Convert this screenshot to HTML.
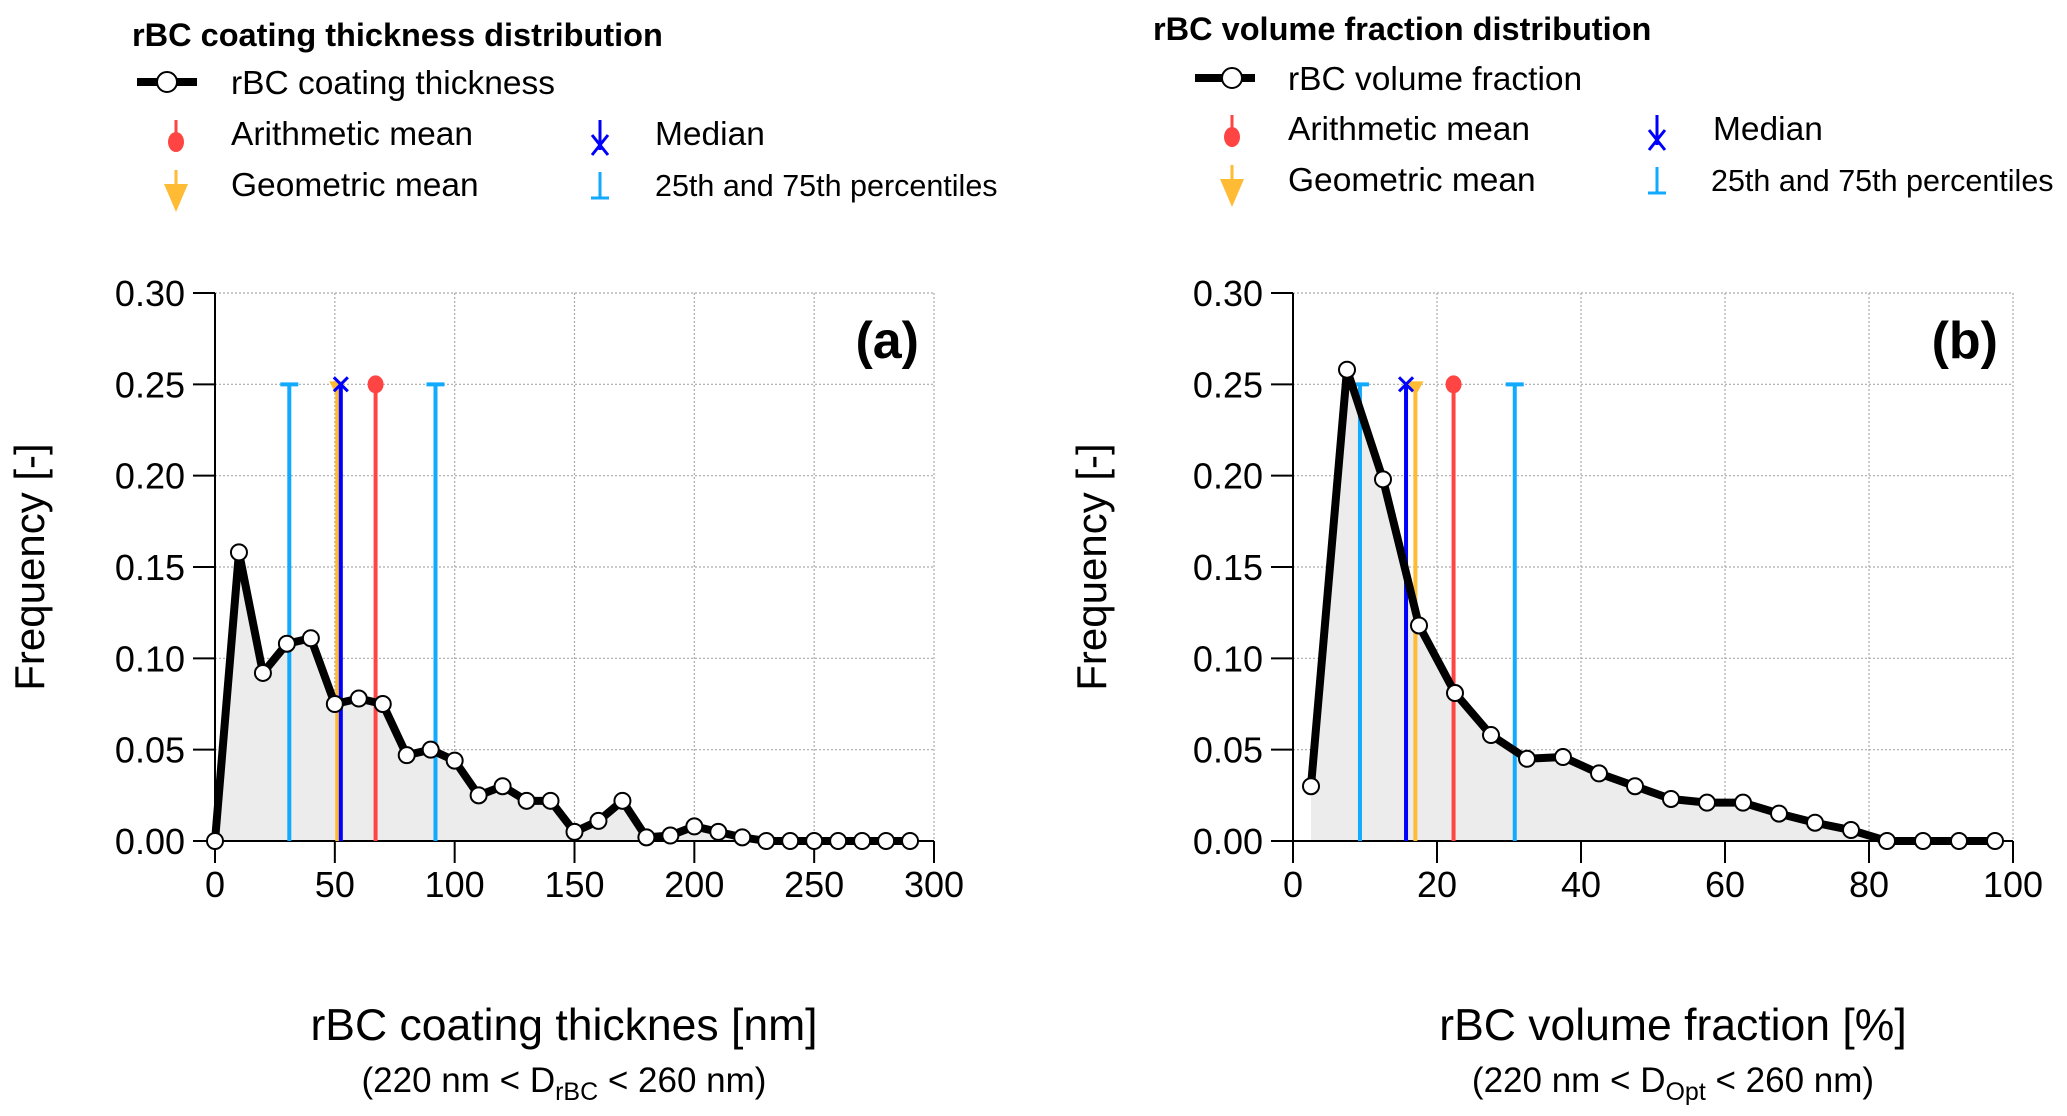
<!DOCTYPE html>
<html><head><meta charset="utf-8"><style>
html,body{margin:0;padding:0;background:#fff;}
svg{display:block;font-family:"Liberation Sans",Arial,sans-serif;}
</style></head><body>
<svg id="fig" width="2067" height="1116" viewBox="0 0 2067 1116">
<g>
 <text x="132" y="46" font-size="32.5" font-weight="bold">rBC coating  thickness distribution</text>
 <line x1="137" y1="82" x2="197" y2="82" stroke="#000" stroke-width="8"/>
 <circle cx="167" cy="82" r="10" fill="#fff" stroke="#000" stroke-width="2"/>
 <text x="231" y="94" font-size="33.5">rBC coating thickness</text>
 <line x1="176" y1="120" x2="176" y2="133" stroke="#f44" stroke-width="3"/><ellipse cx="176" cy="142" rx="8" ry="10" fill="#f44"/>
 <text x="231" y="145" font-size="33.5">Arithmetic mean</text>
 <line x1="176" y1="170" x2="176" y2="185" stroke="#fb3" stroke-width="3"/><polygon points="164,184 188,184 176,212" fill="#fb3"/>
 <text x="231" y="196" font-size="33.5">Geometric mean</text>
 <line x1="600" y1="120" x2="600" y2="150" stroke="#00f" stroke-width="3"/><path d="M592,135 L608,155 M608,135 L592,155" stroke="#00f" stroke-width="3"/>
 <text x="655" y="145" font-size="33.5">Median</text>
 <line x1="600" y1="172" x2="600" y2="198" stroke="#1af" stroke-width="3"/><line x1="591" y1="198" x2="609" y2="198" stroke="#1af" stroke-width="3"/>
 <text x="655" y="196" font-size="30.5">25th and 75th percentiles</text>
</g>
<g>
 <text x="1153" y="40" font-size="32.5" font-weight="bold">rBC volume fraction distribution</text>
 <line x1="1195" y1="78" x2="1255" y2="78" stroke="#000" stroke-width="8"/>
 <circle cx="1232" cy="78" r="10" fill="#fff" stroke="#000" stroke-width="2"/>
 <text x="1288" y="90" font-size="33.5">rBC volume fraction</text>
 <line x1="1232" y1="115" x2="1232" y2="128" stroke="#f44" stroke-width="3"/><ellipse cx="1232" cy="137" rx="8" ry="10" fill="#f44"/>
 <text x="1288" y="140" font-size="33.5">Arithmetic mean</text>
 <line x1="1232" y1="165" x2="1232" y2="180" stroke="#fb3" stroke-width="3"/><polygon points="1220,179 1244,179 1232,207" fill="#fb3"/>
 <text x="1288" y="191" font-size="33.5">Geometric mean</text>
 <line x1="1657" y1="115" x2="1657" y2="145" stroke="#00f" stroke-width="3"/><path d="M1649,130 L1665,150 M1665,130 L1649,150" stroke="#00f" stroke-width="3"/>
 <text x="1713" y="140" font-size="33.5">Median</text>
 <line x1="1657" y1="167" x2="1657" y2="193" stroke="#1af" stroke-width="3"/><line x1="1648" y1="193" x2="1666" y2="193" stroke="#1af" stroke-width="3"/>
 <text x="1711" y="191" font-size="30.5">25th and 75th percentiles</text>
</g>
<g id="pa"></g>
<g id="pb"></g>
</svg>
<script>
const xA = [0,10,20,30,40,50,60,70,80,90,100,110,120,130,140,150,160,170,180,190,200,210,220,230,240,250,260,270,280,290];
const yA = [0,0.158,0.092,0.108,0.111,0.075,0.078,0.075,0.047,0.050,0.044,0.025,0.030,0.022,0.022,0.005,0.011,0.022,0.002,0.003,0.008,0.005,0.002,0,0,0,0,0,0,0];
const statsA = [31, 51, 52.5, 67, 92]; // q25, geo, median, mean, q75
const xTicksA = [0,50,100,150,200,250,300];
const xB = [2.5,7.5,12.5,17.5,22.5,27.5,32.5,37.5,42.5,47.5,52.5,57.5,62.5,67.5,72.5,77.5,82.5,87.5,92.5,97.5];
const yB = [0.030,0.258,0.198,0.118,0.081,0.058,0.045,0.046,0.037,0.030,0.023,0.021,0.021,0.015,0.010,0.006,0,0,0,0];
const statsB = [9.3, 17, 15.7, 22.3, 30.8];
const xTicksB = [0,20,40,60,80,100];
const yTicks = [0,0.05,0.10,0.15,0.20,0.25,0.30];
const NS='http://www.w3.org/2000/svg';
function mk(p,tag,a){const e=document.createElementNS(NS,tag);for(const k in a)e.setAttribute(k,a[k]);p.appendChild(e);return e;}
function draw(g,o){
 const sx=v=>o.L+(v-o.xmin)/(o.xmax-o.xmin)*(o.R-o.L);
 const sy=v=>o.B-(v/0.30)*(o.B-o.T);
 yTicks.forEach(t=>{ if(t>0){const l=mk(g,'line',{x1:o.L,x2:o.R,y1:sy(t),y2:sy(t),stroke:'#aaa','stroke-width':1.2,'stroke-dasharray':'2,2'});
   
   }
  mk(g,'line',{x1:o.L-22,x2:o.L,y1:sy(t),y2:sy(t),stroke:'#000','stroke-width':2});
  const tx=mk(g,'text',{x:o.L-30,y:sy(t)+13,'font-size':36,'text-anchor':'end'});tx.textContent=t.toFixed(2);
  
  
 });
 o.xt.forEach(t=>{ if(t>o.xmin){const l=mk(g,'line',{x1:sx(t),x2:sx(t),y1:o.T,y2:o.B,stroke:'#aaa','stroke-width':1.2,'stroke-dasharray':'2,2'});
   
   }
  mk(g,'line',{x1:sx(t),x2:sx(t),y1:o.B,y2:o.B+22,stroke:'#000','stroke-width':2});
  const tx=mk(g,'text',{x:sx(t),y:o.B+56,'font-size':36,'text-anchor':'middle'});tx.textContent=t;
  
  
 });
 let d='M'+sx(o.x[0])+','+sy(0);o.x.forEach((v,i)=>d+=' L'+sx(v)+','+sy(o.y[i]));d+=' L'+sx(o.x[o.x.length-1])+','+sy(0)+'Z';
 const f=mk(g,'path',{d:d,fill:'#ececec'});
 
 
 mk(g,'line',{x1:o.L,x2:o.L,y1:o.T,y2:o.B,stroke:'#000','stroke-width':2});
 mk(g,'line',{x1:o.L-22,x2:o.R,y1:o.B,y2:o.B,stroke:'#000','stroke-width':2});
 const cols=['#1af','#fb3','#00f','#f44','#1af'];
 const names=['q25-line','geomean-line','median-line','mean-line','q75-line'];
 const yt=sy(0.25);
 o.s.forEach((v,i)=>{const x=sx(v);
  const l=mk(g,'line',{x1:x,x2:x,y1:yt,y2:o.B,stroke:cols[i],'stroke-width':4});
  
  
  if(i==0||i==4)mk(g,'line',{x1:x-9,x2:x+9,y1:yt,y2:yt,stroke:cols[i],'stroke-width':4});
  if(i==1)mk(g,'polygon',{points:(x-8)+','+(yt-3)+' '+(x+8)+','+(yt-3)+' '+x+','+(yt+12),fill:cols[i]});
  if(i==2)mk(g,'path',{d:'M'+(x-7)+','+(yt-7)+' L'+(x+7)+','+(yt+7)+' M'+(x+7)+','+(yt-7)+' L'+(x-7)+','+(yt+7),stroke:'#00f','stroke-width':3});
  if(i==3)mk(g,'ellipse',{cx:x,cy:yt,rx:8,ry:9,fill:cols[i]});
 });
 const pts=o.x.map((v,i)=>sx(v)+','+sy(o.y[i])).join(' ');
 const pl=mk(g,'polyline',{points:pts,fill:'none',stroke:'#000','stroke-width':8,'stroke-linejoin':'round'});
 
 
 o.x.forEach((v,i)=>{const c=mk(g,'circle',{cx:sx(v),cy:sy(o.y[i]),r:8,fill:'#fff',stroke:'#000','stroke-width':2});
  
  });
 const pl2=mk(g,'text',{x:o.R-15,y:o.T+65,'font-size':52,'font-weight':'bold','text-anchor':'end'});pl2.textContent=o.label;
 
 
 const yl=mk(g,'text',{transform:'translate('+o.ytx+','+((o.T+o.B)/2)+') rotate(-90)','font-size':42,'text-anchor':'middle'});yl.textContent='Frequency [-]';
 
 
 const xl=mk(g,'text',{x:o.tc,y:1040,'font-size':44.5,'text-anchor':'middle'});xl.textContent=o.xtitle;
 
 
 const st=mk(g,'text',{x:o.tc,y:1092,'font-size':35,'text-anchor':'middle'});
 
 
 st.innerHTML='(220 nm &lt; D<tspan font-size="25" dy="8">'+o.sub+'</tspan><tspan dy="-8"> &lt; 260  nm)</tspan>';
}
draw(document.getElementById('pa'),{L:215,R:934,T:293,B:841,xmin:0,xmax:300,x:xA,y:yA,s:statsA,xt:xTicksA,label:'(a)',ytx:44,tc:564,xtitle:'rBC coating thicknes [nm]',sub:'rBC'});
draw(document.getElementById('pb'),{L:1293,R:2013,T:293,B:841,xmin:0,xmax:100,x:xB,y:yB,s:statsB,xt:xTicksB,label:'(b)',ytx:1106,tc:1673,xtitle:'rBC  volume fraction [%]',sub:'Opt'});
</script>
</body></html>
